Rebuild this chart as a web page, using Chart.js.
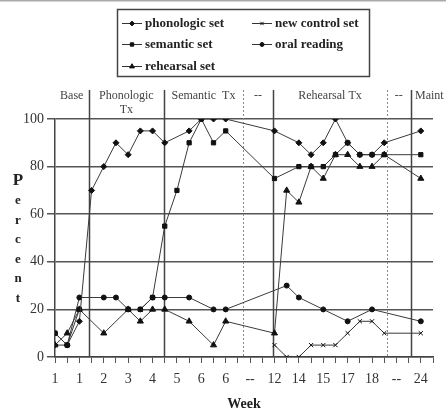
<!DOCTYPE html>
<html lang="en">
<head>
<meta charset="UTF-8">
<title>Percent correct by week</title>
<script src="https://cdn.jsdelivr.net/npm/chart.js"></script>
<style>
  html, body { margin: 0; padding: 0; background: #fff; }
  #wrap { position: relative; width: 446px; height: 414px; }
</style>
</head>
<body>
<div id="wrap"><canvas id="chart" width="446" height="414"></canvas></div>
<script>
// week labels, one under every second probe slot (slots 0..30)
const weekLabels = ['1', '1', '2', '3', '4', '5', '6', '6', '--', '12', '14', '15', '17', '18', '--', '24'];

// percent correct per probe slot, null where nothing was probed
const phonologicSet = [5, 5, 15, 70, 80, 90, 85, 95, 95, 90, null, 95, 100, 100, 100, null, null, null, 95, null, 90, 85, 90, 100, 90, 85, 85, 90, null, null, 95];
const semanticSet   = [10, 5, 20, null, null, null, 20, 20, 25, 55, 70, 90, 100, 90, 95, null, null, null, 75, null, 80, 80, 80, 85, 90, 85, 85, 85, null, null, 85];
const rehearsalSet  = [5, 10, 20, null, 10, null, 20, 15, 20, 20, null, 15, null, 5, 15, null, null, null, 10, 70, 65, 80, 75, 85, 85, 80, 80, 85, null, null, 75];
const newControlSet = [null, null, null, null, null, null, null, null, null, null, null, null, null, null, null, null, null, null, 5, 0, 0, 5, 5, 5, 10, 15, 15, 10, null, null, 10];
const oralReading   = [10, 5, 25, null, 25, 25, 20, 20, 25, 25, null, 25, null, 20, 20, null, null, null, null, 30, 25, null, 20, null, 15, null, 20, null, null, null, 15];

// treatment phases and the slot positions where one phase ends and the next begins
const phaseNames = ['Base', 'Phonologic\nTx', 'Semantic  Tx', '--', 'Rehearsal Tx', '--', 'Maint'];
const phaseBreaks = [2.75, 8.95, 15.4, 17.9, 27.2, 29.2];

const SERIF = '"Liberation Serif", "Times New Roman", serif';
const INK = '#333';

const series = [
  { label: 'phonologic set', values: phonologicSet, pointStyle: 'rectRot', radius: 3 },
  { label: 'semantic set', values: semanticSet, pointStyle: 'rect', radius: 3 },
  { label: 'rehearsal set', values: rehearsalSet, pointStyle: 'triangle', radius: 3.5 },
  { label: 'new control set', values: newControlSet, pointStyle: 'crossRot', radius: 3 },
  { label: 'oral reading', values: oralReading, pointStyle: 'circle', radius: 2.5 }
];

const datasets = series.map(s => ({
  label: s.label,
  data: s.values.map((y, i) => ({ x: i, y: y })),
  spanGaps: true,
  tension: 0,
  borderColor: '#3a3a3a',
  borderWidth: 1,
  pointStyle: s.pointStyle,
  pointRadius: s.radius,
  pointBackgroundColor: '#111',
  pointBorderColor: '#111',
  pointBorderWidth: 1
}));

// phase separators (under the data) plus phase names, legend box and stacked y title
const decorations = {
  id: 'decorations',
  beforeDatasetsDraw(chart) {
    const { ctx, scales: { x, y } } = chart;
    ctx.save();
    phaseBreaks.forEach((b, i) => {
      const px = Math.round(x.getPixelForValue(b)) + 0.5;
      const dotted = phaseNames[i + 1] === '--';
      ctx.beginPath();
      ctx.strokeStyle = dotted ? '#8a8a8a' : '#444';
      ctx.lineWidth = dotted ? 1 : 1.5;
      ctx.setLineDash(dotted ? [2, 2] : []);
      ctx.moveTo(px, 90);
      ctx.lineTo(px, y.getPixelForValue(0));
      ctx.stroke();
    });
    ctx.restore();
  },
  afterDraw(chart) {
    const { ctx, scales: { x } } = chart;
    ctx.save();

    // thin rule along the top edge
    ctx.fillStyle = '#aaa';
    ctx.fillRect(0, 0, chart.width, 1.5);

    // phase names centred between their separators
    const bounds = [0].concat(phaseBreaks, [32.2]);
    ctx.fillStyle = '#444';
    ctx.font = '12px ' + SERIF;
    ctx.textAlign = 'center';
    ctx.textBaseline = 'middle';
    phaseNames.forEach((name, i) => {
      const cx = x.getPixelForValue((bounds[i] + bounds[i + 1]) / 2);
      name.split('\n').forEach((line, j) => ctx.fillText(line, cx, 96 + j * 14));
    });

    // legend box
    ctx.strokeStyle = '#444';
    ctx.lineWidth = 1.5;
    ctx.strokeRect(117.5, 9.5, 252, 67);
    const slots = [[122, 23], [122, 44], [122, 66], [252, 23], [252, 44]];
    ctx.font = 'bold 13px ' + SERIF;
    ctx.textAlign = 'left';
    chart.data.datasets.forEach((ds, i) => {
      const [lx, ly] = slots[i];
      ctx.strokeStyle = '#333';
      ctx.lineWidth = 1;
      ctx.beginPath();
      ctx.moveTo(lx, ly + 0.5);
      ctx.lineTo(lx + 20, ly + 0.5);
      ctx.stroke();
      ctx.fillStyle = '#111';
      ctx.strokeStyle = '#111';
      Chart.helpers.drawPoint(ctx, { pointStyle: ds.pointStyle, radius: ds.pointRadius * 0.8, borderWidth: 1, rotation: 0 }, lx + 10, ly + 0.5);
      ctx.fillStyle = '#222';
      ctx.fillText(ds.label, lx + 23, ly + 1);
    });

    // vertical "Percent" title, one letter per line
    ctx.fillStyle = '#222';
    ctx.textAlign = 'center';
    'Percent'.split('').forEach((ch, i) => {
      ctx.font = (i === 0 ? 'bold 17px ' : 'bold 13px ') + SERIF;
      ctx.fillText(ch, 18, 181 + i * 19.6);
    });
    ctx.restore();
  }
};

new Chart(document.getElementById('chart'), {
  type: 'line',
  data: { datasets: datasets },
  options: {
    responsive: false,
    animation: false,
    layout: { padding: { top: 119, right: 13, left: 0, bottom: 0 } },
    plugins: { legend: { display: false }, tooltip: { enabled: false } },
    scales: {
      x: {
        type: 'linear',
        min: 0,
        max: 31,
        afterFit: s => { s.height = 57; },
        ticks: {
          stepSize: 1,
          autoSkip: false,
          maxRotation: 0,
          padding: 8,
          color: INK,
          font: { family: SERIF, size: 14 },
          callback: v => (v % 2 === 0 && weekLabels[v / 2] !== undefined) ? weekLabels[v / 2] : ''
        },
        grid: { drawOnChartArea: false, tickLength: 6, tickColor: '#555', tickWidth: 1 },
        border: { color: '#444', width: 1.5 },
        title: {
          display: true,
          text: 'Week',
          color: '#222',
          font: { family: SERIF, size: 14, weight: 'bold' },
          padding: { top: 0, bottom: 1 }
        }
      },
      y: {
        min: 0,
        max: 100,
        afterFit: s => { s.width = 55; },
        ticks: {
          stepSize: 20,
          padding: 3,
          color: INK,
          font: { family: SERIF, size: 14 }
        },
        grid: { color: '#555', lineWidth: 1.5, tickLength: 8, tickColor: '#555' },
        border: { color: '#444', width: 1.5 }
      }
    }
  },
  plugins: [decorations]
});
</script>
</body>
</html>
